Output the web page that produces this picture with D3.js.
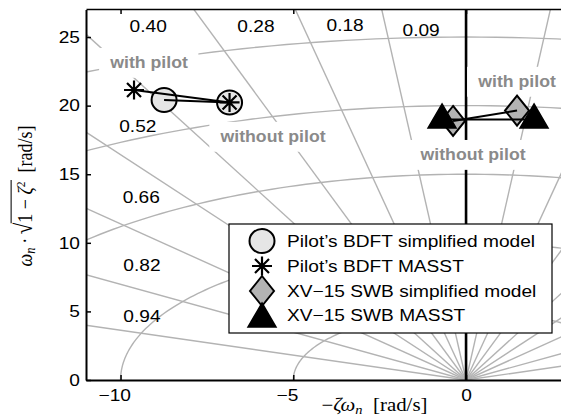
<!DOCTYPE html>
<html>
<head>
<meta charset="utf-8">
<script src="https://cdn.jsdelivr.net/npm/d3@7"></script>
<style>
  body { margin: 0; background: #fff; }
  svg { display: block; }
</style>
</head>
<body>
<div id="chart"></div>
<script>
// pole locations, with pilot and without pilot (re = -zeta*wn, im = wn*sqrt(1-zeta^2))
const seriesNames = [
  "Pilot\u2019s BDFT simplified model",
  "Pilot\u2019s BDFT MASST",
  "XV\u221215 SWB simplified model",
  "XV\u221215 SWB MASST"
];
const withPilotRe = [-8.74, -9.61, 1.476, 1.968];
const withPilotIm = [20.41, 21.14, 19.64, 18.99];
const withoutPilotRe = [-6.845, -6.845, -0.376, -0.695];
const withoutPilotIm = [20.23, 20.23, 18.88, 18.99];

// grid: natural frequency circles and damping lines
const wnCircles = [5, 10, 15, 20, 25];
const zetaLines = [0.09, 0.18, 0.28, 0.40, 0.52, 0.66, 0.82, 0.94];
const zetaLabels = ['0.09', '0.18', '0.28', '0.40', '0.52', '0.66', '0.82', '0.94'];
const zetaLabelRe = [-1.3, -3.5, -6.08, -9.2, -9.5, -9.4, -9.38, -9.38];
const zetaLabelIm = [25.5, 25.9, 25.8, 25.8, 18.5, 13.3, 8.4, 4.66];

// annotations
const noteTexts = ['with pilot', 'without pilot', 'with pilot', 'without pilot'];
const noteRe = [-9.175, -5.586, 1.476, 0.203];
const noteIm = [22.74, 17.35, 21.36, 16.03];

const xTicks = [-10, -5, 0];
const yTicks = [0, 5, 10, 15, 20, 25];

const W = 561, H = 419;
const stretch = 1.16; // the exported figure is a bit wider than tall
const sansFont = '"Liberation Sans", Arial, Helvetica, sans-serif';
const serifFont = '"Liberation Serif", "Times New Roman", serif';

const xScale = d3.scaleLinear().domain([-11, 3]).range([86, 86 + 14 * 34.55]);
const yScale = d3.scaleLinear().domain([0, 27]).range([380, 9.6]);

const svg = d3.select('#chart').append('svg')
  .attr('width', W)
  .attr('height', H);

svg.append('clipPath').attr('id', 'plotClip')
  .append('rect')
  .attr('x', 86).attr('y', 9)
  .attr('width', W - 86).attr('height', 371);

const plot = svg.append('g').attr('clip-path', 'url(#plotClip)');

const line = d3.line().x(d => xScale(d[0])).y(d => yScale(d[1]));

// wn circles (upper half)
plot.selectAll('.wn')
  .data(wnCircles)
  .enter()
  .append('path')
  .attr('class', 'wn')
  .attr('d', wn => line(d3.range(0, 181).map(a => {
    const t = a * Math.PI / 180;
    return [wn * Math.cos(t), wn * Math.sin(t)];
  })))
  .attr('fill', 'none')
  .attr('stroke', '#b3b3b3')
  .attr('stroke-width', 1.4);

// damping lines, both half planes
const R = 40;
const zetaSegs = [];
zetaLines.forEach(z => {
  const im = Math.sqrt(1 - z * z) * R;
  zetaSegs.push([[0, 0], [-z * R, im]]);
  zetaSegs.push([[0, 0], [z * R, im]]);
});
plot.selectAll('.zeta')
  .data(zetaSegs)
  .enter()
  .append('path')
  .attr('class', 'zeta')
  .attr('d', line)
  .attr('fill', 'none')
  .attr('stroke', '#b3b3b3')
  .attr('stroke-width', 1.4);

// imaginary axis
plot.append('line')
  .attr('x1', xScale(0)).attr('x2', xScale(0))
  .attr('y1', yScale(0)).attr('y2', yScale(27))
  .attr('stroke', '#000')
  .attr('stroke-width', 2.6);

// damping labels
zetaLabels.forEach((lab, i) => {
  plot.append('text')
    .attr('transform', `translate(${xScale(zetaLabelRe[i])},${yScale(zetaLabelIm[i])}) scale(${stretch},1)`)
    .attr('text-anchor', 'middle')
    .attr('dy', '0.36em')
    .style('font-family', sansFont)
    .style('font-size', '16.5px')
    .text(lab);
});

// boxed grey notes
noteTexts.forEach((txt, i) => {
  const g = plot.append('g')
    .attr('transform', `translate(${xScale(noteRe[i])},${yScale(noteIm[i])}) scale(1.12,1)`);
  const rect = g.append('rect').attr('fill', '#fff');
  const t = g.append('text')
    .attr('text-anchor', 'middle')
    .style('font-family', sansFont)
    .style('font-size', '15.8px')
    .style('font-weight', 'bold')
    .attr('fill', '#8a8a8a')
    .text(txt);
  const bb = t.node().getBBox();
  rect.attr('x', bb.x - 9).attr('y', bb.y - 6)
    .attr('width', bb.width + 18).attr('height', bb.height + 12);
});

// marker shapes
const markerShape = [
  g => g.append('ellipse').attr('rx', 12.5).attr('ry', 12)
    .attr('fill', '#e6e6e6').attr('stroke', '#000').attr('stroke-width', 2),
  g => g.append('path')
    .attr('d', 'M-10,0L10,0M0,-9.5L0,9.5M-7,-7L7,7M-7,7L7,-7')
    .attr('fill', 'none').attr('stroke', '#000').attr('stroke-width', 2.2),
  g => g.append('path').attr('d', 'M0,-15L12,0L0,15L-12,0Z')
    .attr('fill', '#b3b3b3').attr('stroke', '#000').attr('stroke-width', 2),
  g => g.append('path').attr('d', 'M0,-15.5L14,8.5L-14,8.5Z')
    .attr('fill', '#000').attr('stroke', '#000').attr('stroke-width', 1.5)
];

seriesNames.forEach((name, i) => {
  [[withPilotRe[i], withPilotIm[i]], [withoutPilotRe[i], withoutPilotIm[i]]].forEach(p => {
    const g = plot.append('g')
      .attr('transform', `translate(${xScale(p[0])},${yScale(p[1])})`);
    markerShape[i](g);
  });
});

seriesNames.forEach((name, i) => {
  plot.append('path')
    .attr('d', line([[withPilotRe[i], withPilotIm[i]], [withoutPilotRe[i], withoutPilotIm[i]]]))
    .attr('fill', 'none')
    .attr('stroke', '#000')
    .attr('stroke-width', 2);
});

// axes
const styleAxis = g => {
  g.select('.domain').attr('stroke', '#000').attr('stroke-width', 2);
  g.selectAll('.tick line').attr('stroke', '#000').attr('stroke-width', 1.5);
  g.selectAll('.tick text')
    .style('font-family', sansFont)
    .style('font-size', '16.5px')
    .attr('fill', '#000');
};

svg.append('g')
  .attr('transform', 'translate(86,0)')
  .call(d3.axisLeft(yScale).tickValues(yTicks).tickSize(-5).tickSizeOuter(0).tickPadding(6))
  .call(styleAxis)
  .call(g => g.selectAll('.tick text')
    .attr('x', -6 / stretch)
    .attr('transform', `scale(${stretch},1)`));

svg.append('g')
  .attr('transform', 'translate(0,380)')
  .call(d3.axisBottom(xScale).tickValues(xTicks).tickSize(-5).tickSizeOuter(0).tickPadding(9))
  .call(styleAxis)
  .call(g => g.selectAll('.tick text')
    .attr('transform', `scale(${stretch},1)`)
    .attr('dx', d => d < 0 ? -5.5 : 0));

svg.append('g')
  .attr('transform', 'translate(0,9)')
  .call(d3.axisTop(xScale).tickValues(xTicks).tickSize(-5).tickSizeOuter(0).tickFormat(''))
  .call(styleAxis)
  .call(g => g.select('.domain').attr('stroke-width', 1.5));

// axis labels
const xLab = svg.append('text')
  .attr('transform', `translate(374.5,411) scale(${stretch},1)`)
  .attr('text-anchor', 'middle')
  .style('font-family', serifFont)
  .style('font-size', '18px');
xLab.append('tspan').text('\u2212');
xLab.append('tspan').style('font-style', 'italic').text('\u03b6\u03c9');
xLab.append('tspan').style('font-style', 'italic').attr('dy', 3).style('font-size', '12.5px').text('n');
xLab.append('tspan').attr('dy', -3).text('\u2002[rad/s]');

const yLabG = svg.append('g')
  .attr('transform', `translate(32,196) scale(${stretch},1) rotate(-90)`);
const yLab = yLabG.append('text')
  .attr('text-anchor', 'middle')
  .style('font-family', serifFont)
  .style('font-size', '18px');
yLab.append('tspan').style('font-style', 'italic').text('\u03c9');
yLab.append('tspan').style('font-style', 'italic').attr('dy', 3).style('font-size', '12.5px').text('n');
yLab.append('tspan').attr('dy', -3).text('\u2009\u00b7\u2009');
yLab.append('tspan').style('font-size', '21px').text('\u221a');
yLab.append('tspan').text('1 \u2212 ');
yLab.append('tspan').style('font-style', 'italic').text('\u03b6');
yLab.append('tspan').attr('dy', -6).style('font-size', '11.5px').text('2');
yLab.append('tspan').attr('dy', 6).text('\u2002[rad/s]');
// vinculum of the square root, over "1 - zeta^2"
const labNode = yLab.node();
const vStart = labNode.getEndPositionOfChar(5).x - 0.5;
const vEnd = labNode.getEndPositionOfChar(11).x + 1.5;
yLabG.append('line')
  .attr('x1', vStart).attr('x2', vEnd)
  .attr('y1', -18).attr('y2', -18)
  .attr('stroke', '#000')
  .attr('stroke-width', 0.9);

// legend
const legendRows = [241, 266, 291, 315.5];
const legend = svg.append('g');
legend.append('rect')
  .attr('x', 229).attr('y', 224)
  .attr('width', 323).attr('height', 109)
  .attr('fill', '#fff')
  .attr('stroke', '#000')
  .attr('stroke-width', 1.2);
seriesNames.forEach((name, i) => {
  const g = legend.append('g').attr('transform', `translate(262,${legendRows[i] + (i === 3 ? 3 : 0)})`);
  markerShape[i](g);
  legend.append('text')
    .attr('transform', `translate(287,${legendRows[i]}) scale(${stretch},1)`)
    .attr('dy', '0.36em')
    .style('font-family', sansFont)
    .style('font-size', '16.5px')
    .text(name);
});
</script>
</body>
</html>
